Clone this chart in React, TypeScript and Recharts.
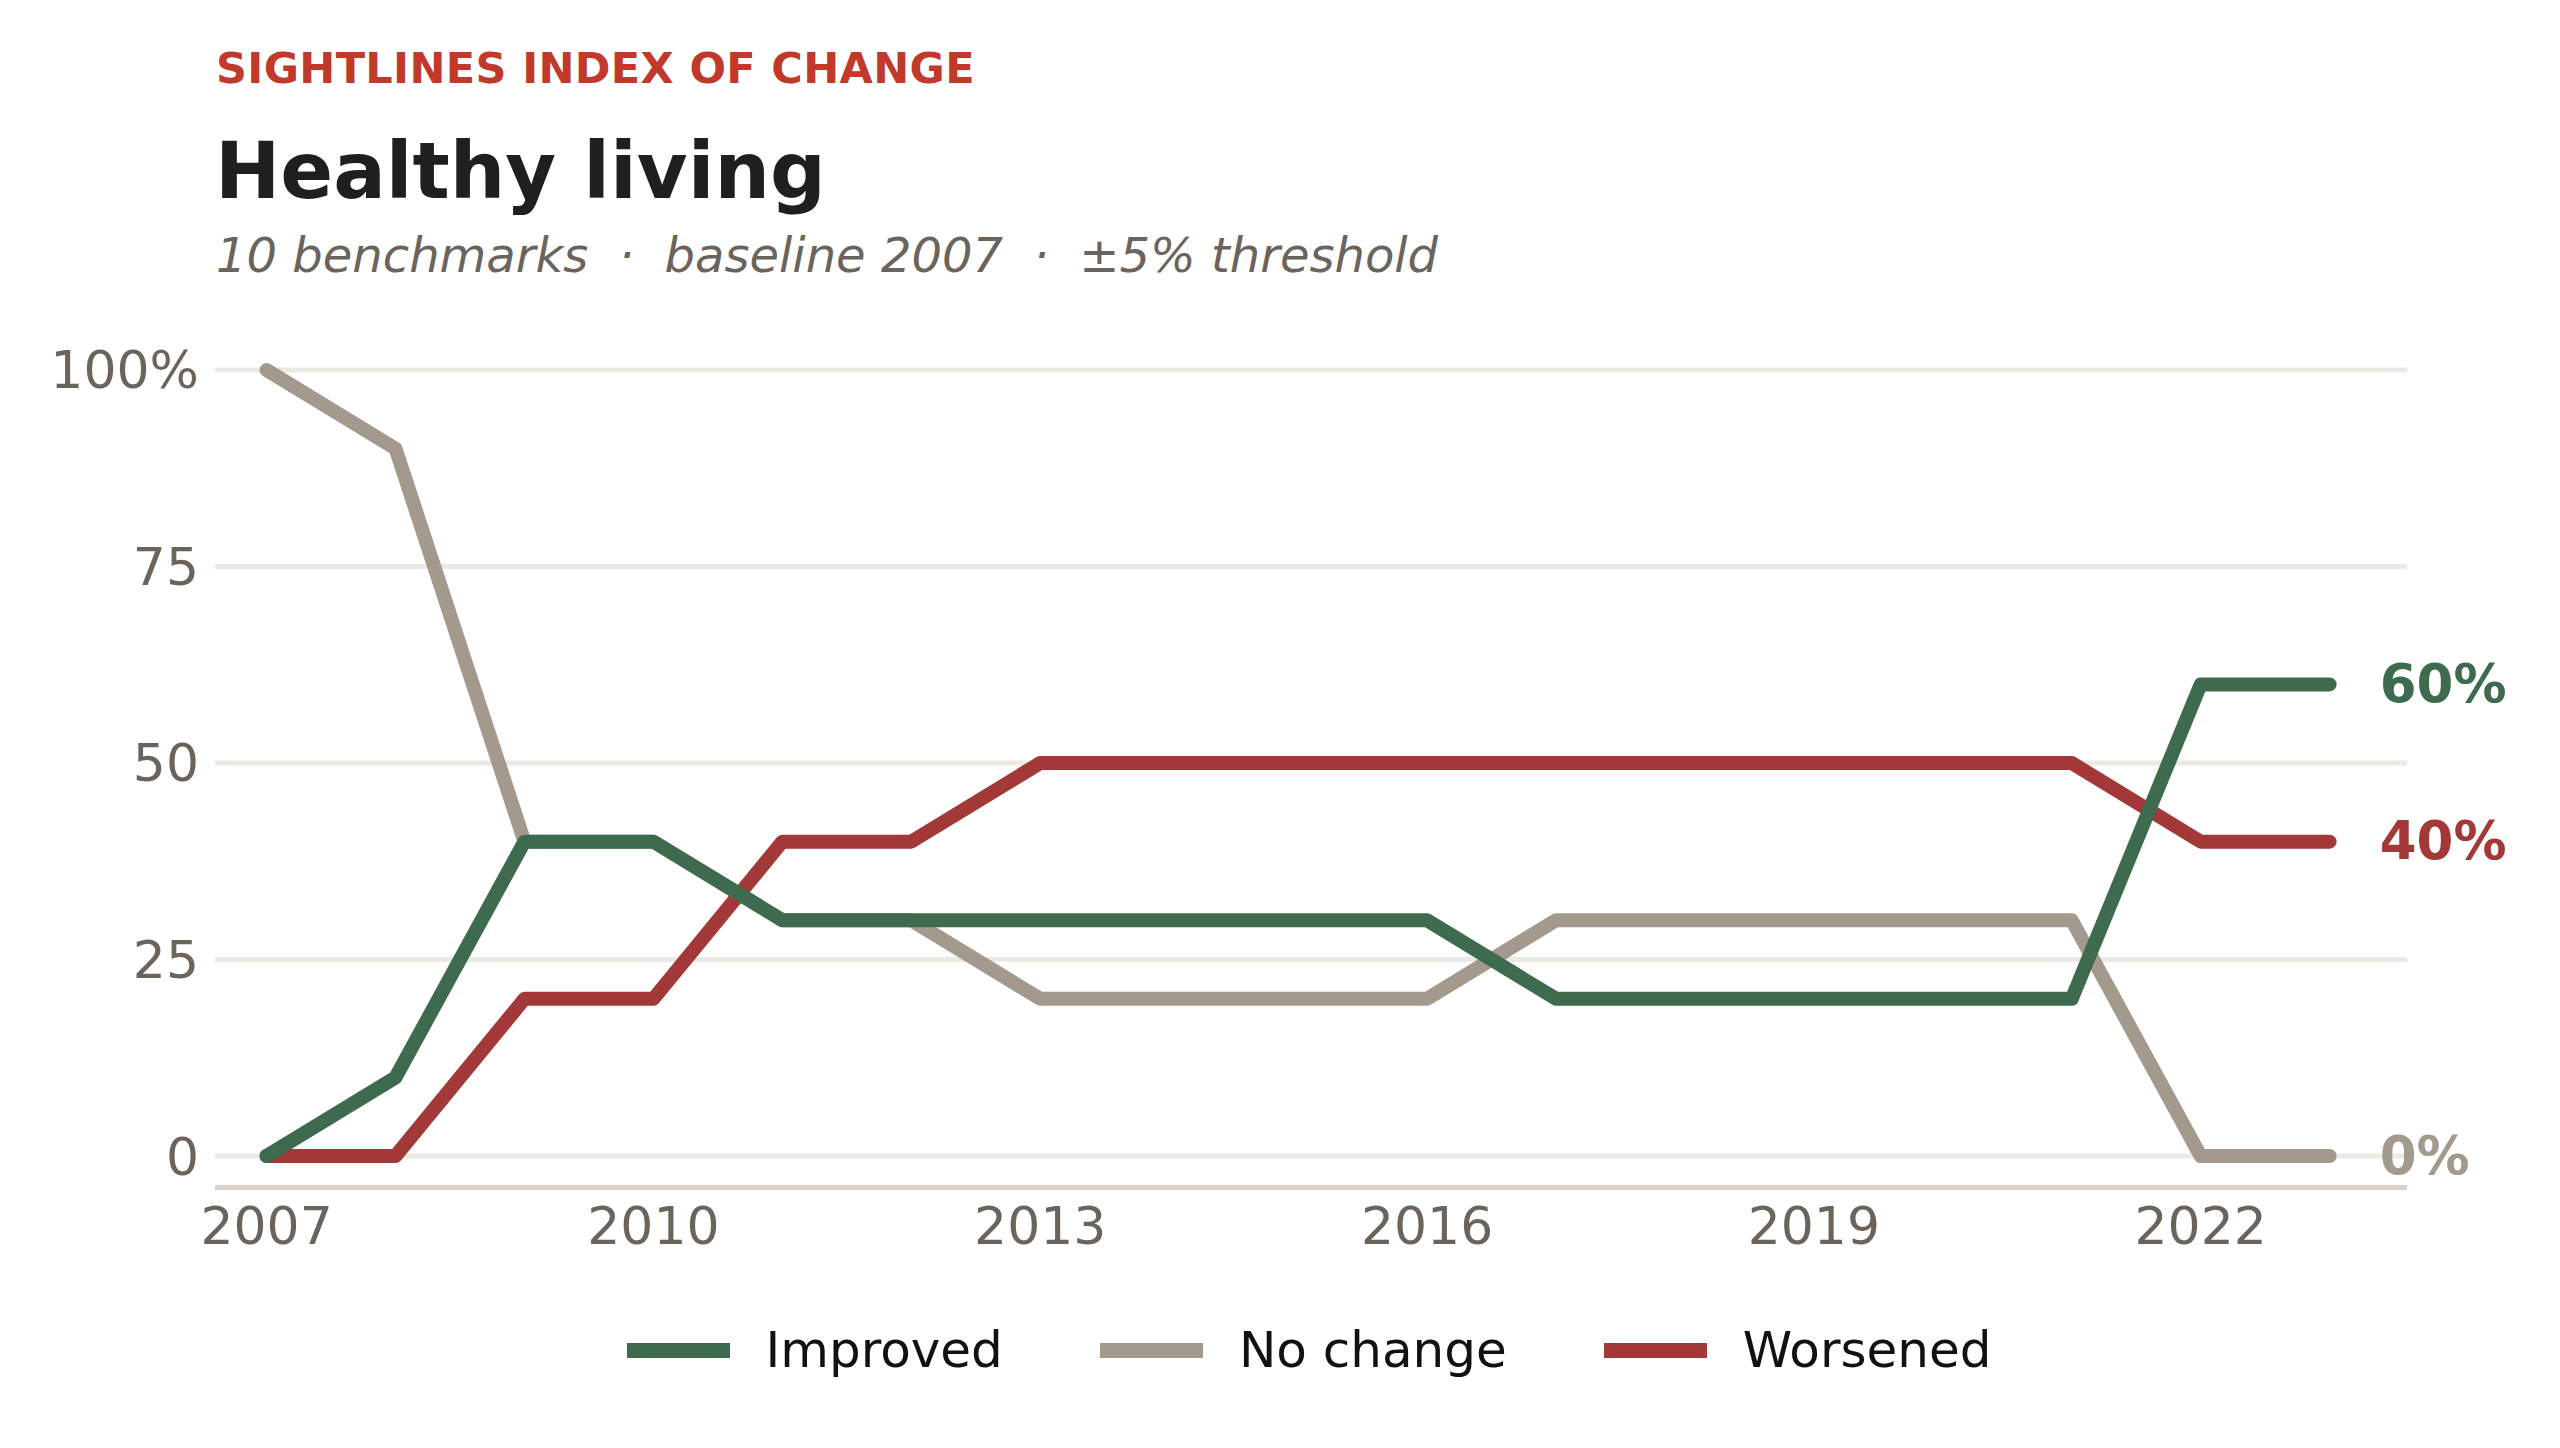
import { LineChart, Line, XAxis, YAxis, CartesianGrid, LabelList } from 'recharts';

const years = [2007, 2008, 2009, 2010, 2011, 2012, 2013, 2014, 2015, 2016, 2017, 2018, 2019, 2020, 2021, 2022, 2023];
const improved = [0, 10, 40, 40, 30, 30, 30, 30, 30, 30, 20, 20, 20, 20, 20, 60, 60];
const noChange = [100, 90, 40, 40, 30, 30, 20, 20, 20, 20, 30, 30, 30, 30, 30, 0, 0];
const worsened = [0, 0, 20, 20, 40, 40, 50, 50, 50, 50, 50, 50, 50, 50, 50, 40, 40];

const xTicks = [2007, 2010, 2013, 2016, 2019, 2022];
const yTicks = [0, 25, 50, 75, 100];

const FONT = '"DejaVu Sans", sans-serif';
const GREEN = '#3e6b4d';
const GRAY = '#a39a8d';
const RED = '#a33838';
const TICK = '#6b645c';

const series = [
  { key: 'noChange', name: 'No change', color: GRAY },
  { key: 'worsened', name: 'Worsened', color: RED },
  { key: 'improved', name: 'Improved', color: GREEN },
];
const legendOrder = ['improved', 'noChange', 'worsened'];

const rows = years.map((year, i) => ({
  year,
  improved: improved[i],
  noChange: noChange[i],
  worsened: worsened[i],
}));

const lastIndex = years.length - 1;

function endLabel(color: string) {
  return (props: any) => {
    const { x, y, value, index } = props;
    if (index !== lastIndex) return null;
    return (
      <text
        x={x + 50}
        y={y}
        dy="0.33em"
        fill={color}
        fontFamily={FONT}
        fontSize={53}
        fontWeight="bold"
      >
        {`${value}%`}
      </text>
    );
  };
}

export default function App() {
  return (
    <div
      style={{
        position: 'absolute',
        left: 0,
        top: 0,
        width: 2560,
        height: 1448,
        background: '#ffffff',
        fontFamily: FONT,
        overflow: 'hidden',
      }}
    >
      {/* Header */}
      <div
        style={{
          position: 'absolute',
          left: 216,
          top: 47,
          fontSize: 43,
          lineHeight: 1,
          fontWeight: 'bold',
          color: '#c0392b',
          letterSpacing: 0.35,
          whiteSpace: 'nowrap',
        }}
      >
        SIGHTLINES INDEX OF CHANGE
      </div>
      <div
        style={{
          position: 'absolute',
          left: 215,
          top: 132,
          fontSize: 78,
          lineHeight: 1,
          fontWeight: 'bold',
          color: '#1f1f1f',
          whiteSpace: 'nowrap',
        }}
      >
        Healthy living
      </div>
      <div
        style={{
          position: 'absolute',
          left: 216,
          top: 231,
          fontSize: 48,
          lineHeight: 1,
          fontStyle: 'italic',
          color: TICK,
          whiteSpace: 'pre',
        }}
      >
        {'10 benchmarks  ·  baseline 2007  ·  ±5% threshold'}
      </div>

      {/* Chart */}
      <div style={{ position: 'absolute', left: 0, top: 0 }}>
        <LineChart
          width={2560}
          height={1448}
          data={rows}
          margin={{ top: 330.7, right: 153, left: 0, bottom: 200.5 }}
        >
          <CartesianGrid
            horizontal
            vertical={false}
            horizontalValues={yTicks}
            stroke="#ebe9e3"
            strokeWidth={5}
          />
          <XAxis
            dataKey="year"
            type="number"
            domain={[2006.6, 2023.6]}
            ticks={xTicks}
            height={60}
            tickSize={0}
            tickMargin={20}
            axisLine={{ stroke: '#d9d3c9', strokeWidth: 5 }}
            tickLine={false}
            tick={{ fontSize: 52, fill: TICK, fontFamily: FONT }}
          />
          <YAxis
            type="number"
            domain={[-4, 105]}
            ticks={yTicks}
            width={215}
            tickSize={0}
            tickMargin={16}
            axisLine={false}
            tickLine={false}
            tick={{ fontSize: 52, fill: TICK, fontFamily: FONT }}
            tickFormatter={(v: number) => (v === 100 ? '100%' : `${v}`)}
          />
          {series.map((s) => (
            <Line
              key={s.key}
              type="linear"
              dataKey={s.key}
              name={s.name}
              stroke={s.color}
              strokeWidth={14}
              strokeLinecap="round"
              strokeLinejoin="round"
              dot={false}
              activeDot={false}
              isAnimationActive={false}
            >
              <LabelList dataKey={s.key} content={endLabel(s.color)} />
            </Line>
          ))}
        </LineChart>
      </div>

      {/* Legend */}
      <div
        style={{
          position: 'absolute',
          left: 213,
          width: 2192,
          top: 1310,
          height: 80,
          display: 'flex',
          justifyContent: 'center',
          alignItems: 'center',
        }}
      >
        {legendOrder.map((k, i) => {
          const s = series.find((d) => d.key === k)!;
          return (
            <div
              key={k}
              style={{
                display: 'flex',
                alignItems: 'center',
                marginLeft: i === 0 ? 0 : 97,
              }}
            >
              <div style={{ width: 103, height: 15, background: s.color, marginRight: 36 }} />
              <span style={{ fontSize: 50, lineHeight: 1, color: '#111111' }}>{s.name}</span>
            </div>
          );
        })}
      </div>
    </div>
  );
}
